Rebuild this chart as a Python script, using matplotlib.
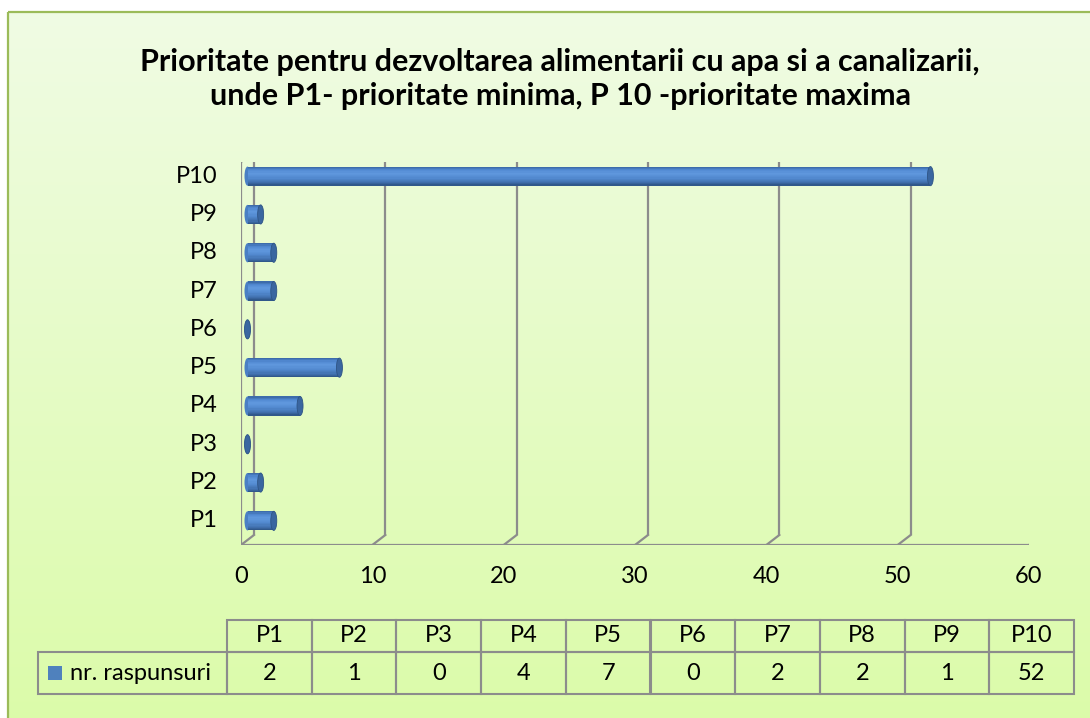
import numpy as np
import matplotlib
matplotlib.use("Agg")
import matplotlib.pyplot as plt
from matplotlib.patches import Ellipse, Rectangle
from matplotlib.colors import LinearSegmentedColormap, to_rgb
from matplotlib.transforms import offset_copy

plt.rcParams['font.family'] = ['Lato', 'DejaVu Sans']

# data
labels = ['P1', 'P2', 'P3', 'P4', 'P5', 'P6', 'P7', 'P8', 'P9', 'P10']
values = [2, 1, 0, 4, 7, 0, 2, 2, 1, 52]
series_name = 'nr. raspunsuri'
title = ('Prioritate pentru dezvoltarea alimentarii cu apa si a canalizarii,\n'
         'unde P1- prioritate minima, P 10 -prioritate maxima')
x_ticks = [0, 10, 20, 30, 40, 50, 60]

W, H = 1090, 718
fs = 17
fig = plt.figure(figsize=(W / 100, H / 100), dpi=100)

# background + frame
bg = fig.add_axes([0, 0, 1, 1], zorder=0)
bg.set_xlim(0, W)
bg.set_ylim(H, 0)
bg.axis('off')
top_c = np.array(to_rgb('#f0fbe4'))
bot_c = np.array(to_rgb('#dbfca8'))
t = np.linspace(0, 1, 256)[:, None]
grad = (top_c * (1 - t) + bot_c * t)[:, None, :]
bg.imshow(grad, extent=[8, W + 20, H + 20, 12], aspect='auto', zorder=0)
bg.add_patch(Rectangle((8, 12), W + 20, H + 20, fill=False,
                       edgecolor='#9bbb59', lw=1.6, zorder=1))

bg.text(560, 79, title, ha='center', va='center', fontsize=22,
        fontweight='bold', linespacing=1.26, color='#000000', zorder=3)

# main (front plane) axes
ax = fig.add_axes([241 / W, (H - 545) / H, (1029 - 241) / W, (545 - 162) / H],
                  zorder=2)
ax.patch.set_alpha(0)
ax.set_xlim(0, 60)
ax.set_ylim(-0.5, 9.5)
for s in ax.spines.values():
    s.set_visible(False)
ax.set_yticks([])
ax.set_xticks(x_ticks)
ax.tick_params(axis='x', length=0, pad=15, labelsize=fs)

dx, dy = 13, 10
back = offset_copy(ax.transData, fig=fig, x=dx, y=dy, units='dots')
mid = offset_copy(ax.transData, fig=fig, x=dx / 2, y=dy / 2, units='dots')
ux = dx / (ax.get_position().width * W / 60)
uy = dy / (ax.get_position().height * H / 10)

gc = '#8c8c8c'
glw = 1.6
for xt in x_ticks:
    ax.plot([xt, xt], [-0.5, 9.5], color=gc, lw=glw, transform=back,
            solid_capstyle='butt', zorder=1)
    ax.plot([xt - ux, xt], [-0.5 - uy, -0.5], color=gc, lw=glw,
            transform=back, zorder=1)
ax.plot([0, 60], [-0.5, -0.5], color=gc, lw=glw, zorder=1)
ax.plot([0, 0], [-0.5, 9.5], color=gc, lw=glw, zorder=1)
ax.plot([0, ux], [9.5, 9.5 + uy], color=gc, lw=glw, zorder=1)

# cylinder bars
cmap = LinearSegmentedColormap.from_list('cyl', [
    (0.0, '#3d6cab'), (0.15, '#5189d2'), (0.35, '#6098de'),
    (0.6, '#5289cf'), (0.85, '#4170ae'), (1.0, '#30588b')])
bar_h = 0.5
n = 16
cap_w = 6 / (ax.get_position().width * W / 60)
for i, v in enumerate(values):
    ax.add_patch(Ellipse((0, i), cap_w, bar_h, facecolor='#4a7fc4',
                         edgecolor='none', transform=mid, zorder=3))
    ys = i + bar_h / 2 - (np.arange(n) + 0.5) * bar_h / n
    cols = [cmap(k / (n - 1)) for k in range(n)]
    ax.barh(ys, [v] * n, height=bar_h / n * 1.05, left=0, color=cols,
            edgecolor='none', transform=mid, zorder=4)
    ax.add_patch(Ellipse((v, i), cap_w, bar_h, facecolor='#3a66a0',
                         edgecolor='#2e5485', lw=0.6, transform=mid, zorder=5))

lbl_tr = offset_copy(ax.transData, fig=fig, x=-23, y=dy / 2, units='dots')
for i, lab in enumerate(labels):
    ax.text(0, i, lab, transform=lbl_tr, ha='right', va='center', fontsize=fs)

# data table
cell_text = [[''] + labels, [''] + [str(v) for v in values]]
col_w = [189] + [84.7] * len(labels)
tbl = bg.table(cellText=cell_text, colWidths=col_w, cellLoc='center',
               bbox=[38 / W, (H - 694) / H, (1074 - 38) / W, (694 - 620) / H])
tbl.auto_set_font_size(False)
for (r, c), cell in tbl.get_celld().items():
    cell.set_facecolor('none')
    cell.set_edgecolor(gc)
    cell.set_linewidth(1.5)
    cell.set_height(32 if r == 0 else 42)
    cell.get_text().set_fontsize(fs)
tbl[0, 0].visible_edges = 'open'
bg.add_patch(Rectangle((48, 666), 14, 14, facecolor='#4f81bd',
                       edgecolor='none', zorder=5))
bg.text(70, 673, series_name, ha='left', va='center', fontsize=fs, zorder=5)

fig.savefig('out.png', dpi=100)
